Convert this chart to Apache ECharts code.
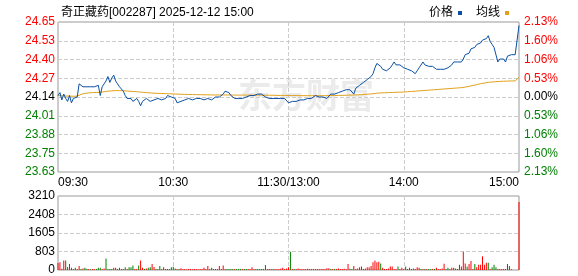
<!DOCTYPE html>
<html><head><meta charset="utf-8">
<script src="https://cdn.jsdelivr.net/npm/echarts@6/dist/echarts.min.js"></script>
<style>html,body{margin:0;padding:0;background:#fff}#c{width:578px;height:276px}</style>
</head><body><div id="c"></div>
<script>
// ---- data ----
const prevClose = 24.14;
const priceMin = 23.626, priceMax = 24.654;
const volMax = 3210;
const priceTicks = ['24.65','24.53','24.40','24.27','24.14','24.01','23.88','23.75','23.63'];
const pctTicks = ['2.13%','1.60%','1.06%','0.53%','0.00%','0.53%','1.06%','1.60%','2.13%'];
const volTicks = ['0','803','1605','2408','3210'];
const xTickIdx = [0, 60, 120, 180, 240];
const xTickLabels = ['09:30','10:30','11:30/13:00','14:00','15:00'];

const prices = [
24.15,24.17,24.12,24.16,24.13,24.11,24.15,24.10,24.13,24.12,
24.14,24.23,24.22,24.21,24.22,24.21,24.20,24.21,24.20,24.21,
24.20,24.22,24.15,24.21,24.23,24.25,24.28,24.24,24.27,24.29,
24.25,24.23,24.21,24.20,24.18,24.15,24.13,24.12,24.13,24.11,
24.12,24.13,24.11,24.08,24.11,24.12,24.13,24.12,24.11,24.12,
24.12,24.11,24.13,24.14,24.12,24.11,24.13,24.15,24.14,24.14,
24.15,24.13,24.10,24.10,24.11,24.12,24.12,24.13,24.13,24.13,
24.12,24.13,24.13,24.12,24.13,24.12,24.12,24.13,24.13,24.13,
24.12,24.13,24.14,24.13,24.14,24.15,24.16,24.18,24.17,24.17,
24.15,24.14,24.13,24.13,24.13,24.14,24.13,24.13,24.14,24.14,
24.15,24.15,24.15,24.16,24.16,24.17,24.16,24.15,24.14,24.13,
24.13,24.13,24.13,24.13,24.13,24.13,24.13,24.13,24.13,24.12,
24.10,24.11,24.11,24.12,24.11,24.12,24.12,24.13,24.12,24.13,
24.13,24.12,24.13,24.14,24.15,24.14,24.14,24.15,24.14,24.14,
24.13,24.13,24.16,24.17,24.16,24.16,24.17,24.17,24.18,24.19,
24.19,24.18,24.19,24.20,24.16,24.20,24.21,24.22,24.23,24.24,
24.25,24.26,24.27,24.28,24.30,24.34,24.37,24.38,24.35,24.33,
24.32,24.32,24.32,24.34,24.36,24.38,24.36,24.35,24.36,24.35,
24.34,24.33,24.33,24.32,24.32,24.31,24.30,24.32,24.34,24.33,
24.38,24.36,24.36,24.35,24.36,24.35,24.34,24.33,24.34,24.33,
24.34,24.33,24.34,24.34,24.35,24.36,24.38,24.37,24.38,24.37,
24.38,24.40,24.43,24.44,24.44,24.47,24.48,24.48,24.50,24.51,
24.51,24.53,24.54,24.54,24.56,24.52,24.50,24.48,24.47,24.38,
24.40,24.41,24.40,24.38,24.42,24.43,24.43,24.43,24.43,24.43,
24.63];

const avgPrices = [
24.150,24.152,24.148,24.149,24.147,24.146,24.146,24.145,24.145,24.145,
24.146,24.152,24.158,24.162,24.165,24.167,24.168,24.169,24.170,24.171,
24.171,24.172,24.172,24.174,24.176,24.178,24.180,24.181,24.182,24.183,
24.184,24.184,24.184,24.184,24.183,24.182,24.181,24.180,24.179,24.178,
24.177,24.176,24.175,24.173,24.172,24.171,24.170,24.169,24.168,24.167,
24.166,24.165,24.165,24.164,24.164,24.163,24.163,24.162,24.162,24.161,
24.161,24.160,24.160,24.159,24.159,24.158,24.158,24.158,24.157,24.157,
24.157,24.156,24.156,24.156,24.156,24.155,24.155,24.155,24.155,24.155,
24.154,24.154,24.154,24.154,24.154,24.154,24.154,24.154,24.154,24.154,
24.154,24.154,24.153,24.153,24.153,24.153,24.153,24.153,24.153,24.153,
24.153,24.153,24.153,24.153,24.153,24.153,24.153,24.152,24.152,24.152,
24.152,24.152,24.152,24.152,24.151,24.151,24.151,24.151,24.151,24.151,
24.150,24.150,24.150,24.150,24.150,24.149,24.149,24.149,24.149,24.149,
24.149,24.149,24.149,24.149,24.149,24.149,24.149,24.149,24.149,24.149,
24.149,24.149,24.150,24.150,24.150,24.150,24.151,24.151,24.151,24.152,
24.152,24.152,24.153,24.153,24.154,24.154,24.155,24.155,24.156,24.157,
24.158,24.159,24.160,24.161,24.162,24.164,24.166,24.167,24.168,24.168,
24.169,24.169,24.170,24.170,24.171,24.171,24.172,24.172,24.173,24.173,
24.174,24.175,24.176,24.177,24.178,24.179,24.180,24.181,24.182,24.183,
24.184,24.185,24.186,24.187,24.188,24.189,24.190,24.191,24.192,24.193,
24.194,24.195,24.196,24.197,24.198,24.199,24.200,24.201,24.202,24.203,
24.204,24.206,24.208,24.210,24.213,24.216,24.219,24.222,24.225,24.228,
24.231,24.234,24.236,24.238,24.240,24.242,24.243,24.244,24.245,24.246,
24.247,24.247,24.248,24.248,24.249,24.249,24.250,24.250,24.250,24.250,
24.275];

const volumes = [
300,335,50,415,415,135,255,95,40,95,
40,175,40,70,95,55,40,35,40,30,
45,95,95,40,70,495,40,40,45,95,
95,40,95,40,40,120,40,120,120,200,
40,40,200,415,95,40,70,95,120,255,
135,40,40,175,40,120,40,40,40,120,
145,70,40,40,80,40,40,35,40,40,
35,40,40,35,40,40,95,40,175,40,
95,40,40,40,175,40,200,40,40,40,
40,40,40,40,40,40,40,40,40,40,
40,120,40,40,40,40,40,40,215,40,
40,40,40,40,40,40,60,95,40,60,
120,790,40,40,40,70,40,40,40,40,
55,40,40,40,40,40,40,40,40,40,
80,80,40,40,40,40,70,40,40,55,
40,255,55,40,175,40,70,120,150,40,
70,120,120,175,335,415,335,360,280,95,
40,40,70,147,147,40,40,147,40,95,
40,147,40,95,40,70,40,120,95,40,
40,40,40,40,40,40,40,95,40,40,
70,270,40,95,40,95,95,70,40,230,
147,790,280,147,255,390,40,255,120,230,
230,600,230,310,310,40,120,230,120,40,
40,40,40,40,255,175,30,0,0,0,
2950];

// 1 = up (red), 0 = down (green)
const volUp = [
1,1,1,1,0,1,1,0,1,0,
1,1,0,1,0,0,1,0,1,1,
0,0,0,1,1,0,0,0,0,1,
1,0,0,0,1,0,1,0,0,0,
1,1,0,1,1,0,1,0,0,1,
1,0,0,0,1,1,1,1,0,0,
0,0,1,0,1,1,1,1,1,1,
1,1,1,1,1,1,1,1,1,0,
0,1,1,1,1,1,1,1,0,0,
0,0,1,0,0,0,1,0,0,1,
1,1,1,0,0,0,0,0,0,1,
1,1,0,1,1,1,1,1,1,1,
1,0,1,0,1,1,1,1,1,1,
1,1,1,1,1,1,1,1,1,1,
1,1,0,1,0,1,1,1,1,1,
1,1,0,0,1,1,1,1,1,1,
1,1,1,1,1,1,1,1,0,1,
1,1,1,1,1,1,1,0,1,1,
1,0,1,0,1,0,1,1,1,0,
1,0,1,0,0,1,0,1,1,1,
1,1,0,0,1,1,0,1,1,0,
1,1,1,0,1,1,1,0,1,1,
1,1,1,1,0,1,0,0,0,1,
1,1,1,1,1,0,1,1,1,1,
1];

// ---- categories (minute times) ----
function fmt(m){const h=Math.floor(m/60),mm=m%60;return (h<10?'0':'')+h+':'+(mm<10?'0':'')+mm;}
const times=[];
for(let m=9*60+30;m<=11*60+30;m++)times.push(fmt(m));
for(let m=13*60+1;m<=15*60;m++)times.push(fmt(m));

const RED='#ff0000', GREEN='#008000';
const FONT='"Liberation Sans", Arial, "Noto Sans CJK SC", sans-serif';

const chart = echarts.init(document.getElementById('c'), null, {renderer:'canvas'});
const volData = volumes.map((v,i)=>({value:v,itemStyle:{color:volUp[i]?RED:GREEN}}));
const splitX = (i)=> i===60||i===120||i===180;

chart.setOption({
  animation:false,
  textStyle:{fontFamily:FONT},
  title:{text:'奇正藏药[002287] 2025-12-12 15:00',left:56,top:2,
    textStyle:{fontSize:12,fontWeight:'normal',color:'#000',fontFamily:FONT}},
  legend:{data:['价格','均线'],right:64,top:2,icon:'rect',itemWidth:4,itemHeight:4,itemGap:14,align:'right',
    textStyle:{fontSize:12,color:'#000',fontFamily:FONT}},
  graphic:[{type:'text',left:238,top:78,z:0,silent:true,
    style:{text:'东方财富',font:'bold 34px "Noto Sans CJK SC"',fill:'#ebebeb'}}],
  grid:[
    {left:58,top:22,width:461,height:150,show:true,borderColor:'#999',borderWidth:1,backgroundColor:'transparent'},
    {left:58,top:196,width:461,height:74,show:true,borderColor:'#999',borderWidth:1,backgroundColor:'transparent'}
  ],
  xAxis:[
    {type:'category',gridIndex:0,data:times,boundaryGap:false,
     axisLine:{show:false},axisTick:{show:false},
     splitLine:{show:true,interval:splitX,lineStyle:{color:'#ccc',type:'dashed'}},
     axisLabel:{margin:5,fontSize:12,color:'#000',fontFamily:FONT,
       interval:(i)=>xTickIdx.indexOf(i)>=0,
       formatter:(v,i)=>{const k=xTickIdx.indexOf(i);if(k<0)return '';
         if(k===0)return '{l|'+xTickLabels[k]+'}';
         if(k===xTickIdx.length-1)return '{r|'+xTickLabels[k]+'}';
         return xTickLabels[k];},
       rich:{l:{padding:[0,0,0,30],fontSize:12,color:'#000',fontFamily:FONT},
             r:{padding:[0,30,0,0],fontSize:12,color:'#000',fontFamily:FONT}}}},
    {type:'category',gridIndex:1,data:times,boundaryGap:false,
     axisLine:{show:false},axisTick:{show:false},axisLabel:{show:false},
     splitLine:{show:true,interval:splitX,lineStyle:{color:'#ccc',type:'dashed'}}}
  ],
  yAxis:[
    {type:'value',gridIndex:0,min:priceMin,max:priceMax,show:false,splitLine:{show:false}},
    {type:'value',gridIndex:0,min:0,max:8,interval:1,position:'left',
     axisLine:{show:false},axisTick:{show:false},
     splitLine:{show:true,lineStyle:{color:'#ccc',type:'dashed'}},
     axisLabel:{margin:3,fontSize:12,fontFamily:FONT,
       formatter:(v)=>priceTicks[8-v],
       color:(v)=>{const k=8-Number(v);return k<4?RED:(k===4?'#000':GREEN);}}},
    {type:'value',gridIndex:0,min:0,max:8,interval:1,position:'right',
     axisLine:{show:false},axisTick:{show:false},splitLine:{show:false},
     axisLabel:{margin:5,fontSize:12,fontFamily:FONT,
       formatter:(v)=>pctTicks[8-v],
       color:(v)=>{const k=8-Number(v);return k<4?RED:(k===4?'#000':GREEN);}}},
    {type:'value',gridIndex:1,min:0,max:volMax,show:false,splitLine:{show:false}},
    {type:'value',gridIndex:1,min:0,max:4,interval:1,position:'left',
     axisLine:{show:false},axisTick:{show:false},
     splitLine:{show:true,lineStyle:{color:'#ccc',type:'dashed'}},
     axisLabel:{margin:3,fontSize:12,color:'#000',fontFamily:FONT,formatter:(v)=>volTicks[v]}}
  ],
  series:[
    {name:'价格',type:'line',xAxisIndex:0,yAxisIndex:0,data:prices,showSymbol:false,symbol:'none',
     color:'#0a4fa3',lineStyle:{width:1,color:'#0a4fa3'},z:4},
    {name:'均线',type:'line',xAxisIndex:0,yAxisIndex:0,data:avgPrices,showSymbol:false,symbol:'none',
     color:'#e1a01a',lineStyle:{width:1,color:'#e1a01a'},z:3},
    {name:'成交量',type:'bar',xAxisIndex:1,yAxisIndex:3,data:volData,barWidth:1,z:3}
  ]
});
</script></body></html>
